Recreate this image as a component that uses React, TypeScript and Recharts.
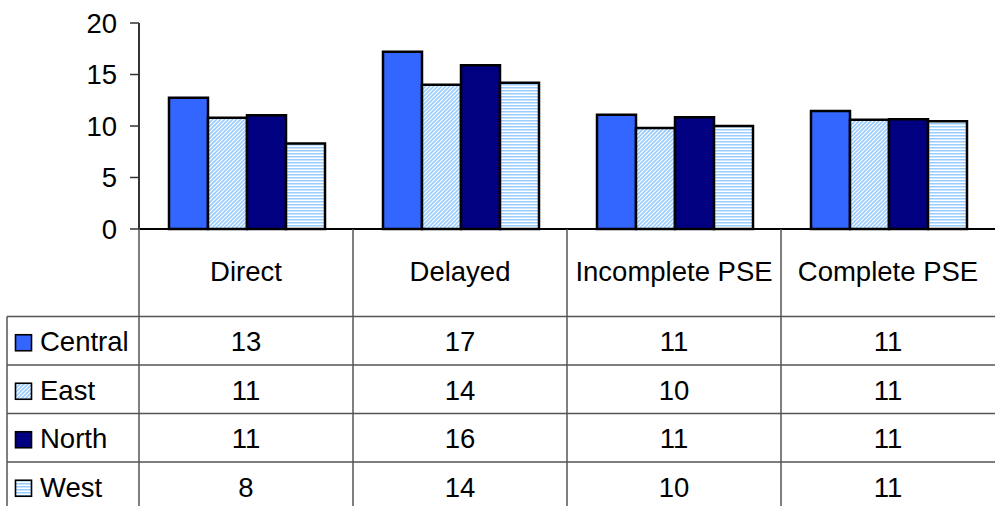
import React from 'react';
import { BarChart, Bar, XAxis, YAxis } from 'recharts';

const categories = ['Direct', 'Delayed', 'Incomplete PSE', 'Complete PSE'];
const central = [12.75, 17.2, 11.1, 11.45];
const east = [10.8, 14.0, 9.8, 10.6];
const north = [11.05, 15.9, 10.85, 10.65];
const west = [8.3, 14.2, 10.0, 10.45];

const centralLabels = ['13', '17', '11', '11'];
const eastLabels = ['11', '14', '10', '11'];
const northLabels = ['11', '16', '11', '11'];
const westLabels = ['8', '14', '10', '11'];

const yTicks = [0, 5, 10, 15, 20];

const seriesNames = ['Central', 'East', 'North', 'West'];
const seriesLabels = [centralLabels, eastLabels, northLabels, westLabels];
const seriesFills = ['#3366ff', 'url(#eastPat)', '#000080', 'url(#westPat)'];

const data = categories.map((c, i) => ({
  name: c,
  Central: central[i],
  East: east[i],
  North: north[i],
  West: west[i],
}));

const FONT = '"Liberation Sans", Arial, sans-serif';
const FS = 27.5;
const LINE = '#555';
const W = 995;
const H = 506;
const AXIS_X = 139;
const ZERO_Y = 229;
const HEADER_BOTTOM = 316.5;
const ROW_H = 48.5;
const TABLE_LEFT = 7;

const TableTick = (props: any) => {
  const { x, payload, index } = props;
  const half = payload && payload.offset ? payload.offset : (W - AXIS_X) / categories.length / 2;
  const i = categories.indexOf(payload.value);
  const left = x - half;
  const right = x + half;
  const els: any[] = [];
  els.push(
    <line key="vl" x1={left} y1={ZERO_Y} x2={left} y2={H} stroke={LINE} strokeWidth={1.5} />
  );
  els.push(
    <text key="hdr" x={x} y={271} textAnchor="middle" dominantBaseline="central" fontSize={FS} fontFamily={FONT} fill="#000">
      {payload.value}
    </text>
  );
  for (let r = 0; r < seriesNames.length; r++) {
    const yTop = HEADER_BOTTOM + r * ROW_H;
    els.push(
      <line key={'hl' + r} x1={left} y1={yTop} x2={right} y2={yTop} stroke={LINE} strokeWidth={1.5} />
    );
    els.push(
      <text key={'v' + r} x={x} y={yTop + ROW_H / 2 + 1} textAnchor="middle" dominantBaseline="central" fontSize={FS} fontFamily={FONT} fill="#000">
        {seriesLabels[r][i]}
      </text>
    );
  }
  if (index === 0) {
    els.push(
      <line key="lv" x1={TABLE_LEFT} y1={HEADER_BOTTOM} x2={TABLE_LEFT} y2={H} stroke={LINE} strokeWidth={1.5} />
    );
    for (let r = 0; r < seriesNames.length; r++) {
      const yTop = HEADER_BOTTOM + r * ROW_H;
      const cy = yTop + ROW_H / 2 + 2;
      els.push(
        <line key={'lh' + r} x1={TABLE_LEFT} y1={yTop} x2={left} y2={yTop} stroke={LINE} strokeWidth={1.5} />
      );
      els.push(
        <rect key={'lm' + r} x={15.5} y={cy - 8} width={16} height={16} fill={seriesFills[r]} stroke="#000" strokeWidth={1.6} />
      );
      els.push(
        <text key={'lt' + r} x={40} y={cy - 1} dominantBaseline="central" fontSize={FS} fontFamily={FONT} fill="#000">
          {seriesNames[r]}
        </text>
      );
    }
  }
  return <g>{els}</g>;
};

export default function App() {
  return (
    <div style={{ position: 'absolute', left: 0, top: 0, width: W, height: H, background: '#fff' }}>
      <BarChart
        width={W}
        height={H}
        data={data}
        margin={{ top: 23, right: 0, left: 0, bottom: 0 }}
        barCategoryGap={30}
        barGap={0}
      >
        <defs>
          <pattern id="eastPat" patternUnits="userSpaceOnUse" width="4" height="4">
            <rect x="0" y="0" width="4" height="4" fill="#ffffff" />
            <path d="M-1,1 l2,-2 M0,4 l4,-4 M3,5 l2,-2" stroke="#99ccff" strokeWidth="1.6" />
          </pattern>
          <pattern id="westPat" patternUnits="userSpaceOnUse" width="4" height="3">
            <rect x="0" y="0" width="4" height="3" fill="#ffffff" />
            <rect x="0" y="0" width="4" height="1.5" fill="#99ccff" />
          </pattern>
        </defs>
        <XAxis
          dataKey="name"
          height={H - ZERO_Y}
          interval={0}
          tickLine={false}
          axisLine={{ stroke: '#000', strokeWidth: 2 }}
          tick={<TableTick />}
        />
        <YAxis
          width={AXIS_X}
          domain={[0, 20]}
          ticks={yTicks}
          interval={0}
          tickSize={9}
          tickMargin={13}
          axisLine={{ stroke: '#333', strokeWidth: 2 }}
          tickLine={{ stroke: '#333', strokeWidth: 1.5 }}
          tick={{ fontSize: FS, fontFamily: FONT, fill: '#000' }}
        />
        <Bar dataKey="Central" fill="#3366ff" stroke="#000" strokeWidth={2.5} isAnimationActive={false} />
        <Bar dataKey="East" fill="url(#eastPat)" stroke="#000" strokeWidth={2.5} isAnimationActive={false} />
        <Bar dataKey="North" fill="#000080" stroke="#000" strokeWidth={2.5} isAnimationActive={false} />
        <Bar dataKey="West" fill="url(#westPat)" stroke="#000" strokeWidth={2.5} isAnimationActive={false} />
      </BarChart>
    </div>
  );
}
